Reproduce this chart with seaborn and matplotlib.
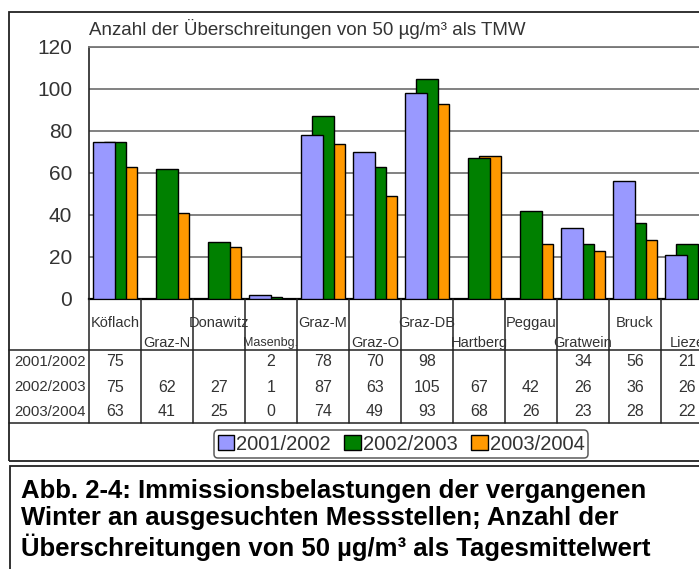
import numpy as np
import pandas as pd
import seaborn as sns
import matplotlib.pyplot as plt
import matplotlib.transforms as mtransforms
from matplotlib.lines import Line2D
from matplotlib.patches import Patch, Rectangle

# data
stations = ["Köflach", "Graz-N", "Donawitz", "Masenbg.", "Graz-M", "Graz-O",
            "Graz-DB", "Hartberg", "Peggau", "Gratwein", "Bruck", "Lieze"]
seasons = ["2001/2002", "2002/2003", "2003/2004"]
v_0102 = [75, None, None, 2, 78, 70, 98, None, None, 34, 56, 21]
v_0203 = [75, 62, 27, 1, 87, 63, 105, 67, 42, 26, 36, 26]
v_0304 = [63, 41, 25, 0, 74, 49, 93, 68, 26, 23, 28, 22]
colors = ["#9999FF", "#008000", "#FF9900"]

title = "Anzahl der Überschreitungen von 50 µg/m³ als TMW"
caption = ("Abb. 2-4: Immissionsbelastungen der vergangenen\n"
           "Winter an ausgesuchten Messstellen; Anzahl der\n"
           "Überschreitungen von 50 µg/m³ als Tagesmittelwert")

sns.set_theme(style="white")
plt.rcParams["font.family"] = ["Liberation Sans", "DejaVu Sans"]

W, H = 699, 569
fig = plt.figure(figsize=(W / 100, H / 100), dpi=100)
fig.patch.set_facecolor("white")


def fx(x):
    return x / W


def fy(y):
    return 1 - y / H


# plot area (runs past the right edge, last station is cut off like in the original)
ax_l, ax_r, ax_t, ax_b = 89, 713, 47, 299
ax = fig.add_axes([fx(ax_l), fy(ax_b), (ax_r - ax_l) / W, (ax_b - ax_t) / H])

width = 0.423
offsets = [-0.212, 0.0, 0.212]
series = [v_0102, v_0203, v_0304]
for k in [2, 1, 0]:
    df = pd.DataFrame({"pos": np.arange(len(stations)) + offsets[k], "val": series[k]}).dropna()
    sns.barplot(data=df, x="pos", y="val", native_scale=True, width=width,
                color=colors[k], saturation=1, edgecolor="black", linewidth=1,
                errorbar=None, zorder=3 + (2 - k), ax=ax)

ax.set_xlim(-0.5, len(stations) - 0.5)
ax.set_ylim(0, 120)
ax.set_yticks(range(0, 121, 20))
ax.set_xticks([])
ax.set_xlabel("")
ax.set_ylabel("")
ax.yaxis.grid(True, color="#777777", linewidth=1.3, zorder=0)
ax.set_axisbelow(True)
ax.tick_params(axis="y", length=0, pad=12, labelsize=15, labelcolor="#333333")
ax.spines["right"].set_visible(False)
ax.spines["top"].set_color("#777777")
ax.spines["top"].set_linewidth(1.3)
ax.spines["left"].set_color("#222222")
ax.spines["left"].set_linewidth(1.2)
ax.spines["bottom"].set_color("black")
ax.spines["bottom"].set_linewidth(1.6)

fig.text(fx(ax_l), fy(29), title, fontsize=13.5, color="#333333", va="center", ha="left")

# data table under the plot
tr = mtransforms.blended_transform_factory(ax.transData, fig.transFigure)
lab_bottom, tab_bottom = 350, 423
row_y = [362, 387, 412]
line_kw = dict(color="#222222", linewidth=1.1)

for i in range(len(stations) + 1):
    fig.add_artist(Line2D([i - 0.5, i - 0.5], [fy(ax_b), fy(tab_bottom)], transform=tr, **line_kw))
for yy in [lab_bottom, tab_bottom]:
    fig.add_artist(Line2D([fx(9), fx(W)], [fy(yy), fy(yy)], transform=fig.transFigure, **line_kw))

for i, name in enumerate(stations):
    yy = 323 if i % 2 == 0 else 343
    fs = 9 if name == "Masenbg." else 10.5
    fig.text(i, fy(yy), name, transform=tr, ha="center", va="center",
             fontsize=fs, color="#333333")

for r, (season, vals) in enumerate(zip(seasons, series)):
    fig.text(fx(14), fy(row_y[r]), season, ha="left", va="center", fontsize=10.8, color="#333333")
    for i, v in enumerate(vals):
        if v is None:
            continue
        fig.text(i, fy(row_y[r]), str(v), transform=tr, ha="center", va="center",
                 fontsize=11.5, color="#333333")

# legend
handles = [Patch(facecolor=c, edgecolor="black", linewidth=1) for c in colors]
leg = fig.legend(handles, seasons, loc="center", bbox_to_anchor=(fx(401), fy(444)),
                 ncol=3, fontsize=14.5, frameon=True, fancybox=True,
                 handlelength=0.8, handleheight=0.8, handletextpad=0.1,
                 columnspacing=0.7, borderpad=0.2, borderaxespad=0)
leg.get_frame().set_edgecolor("#333333")
leg.get_frame().set_linewidth(1.1)
for t in leg.get_texts():
    t.set_color("#333333")

# outer chart frame and caption box
fig.add_artist(Rectangle((fx(9), fy(461)), 1, fy(12) - fy(461), transform=fig.transFigure,
                         fill=False, edgecolor="#222222", linewidth=1.3))
fig.add_artist(Rectangle((fx(10), fy(H + 5)), 1, fy(466) - fy(H + 5), transform=fig.transFigure,
                         fill=False, edgecolor="#222222", linewidth=1.3))
fig.text(fx(21), fy(520), caption, ha="left", va="center", fontsize=18.5,
         fontweight="bold", color="black", linespacing=1.18)

plt.savefig("out.png", dpi=100)
